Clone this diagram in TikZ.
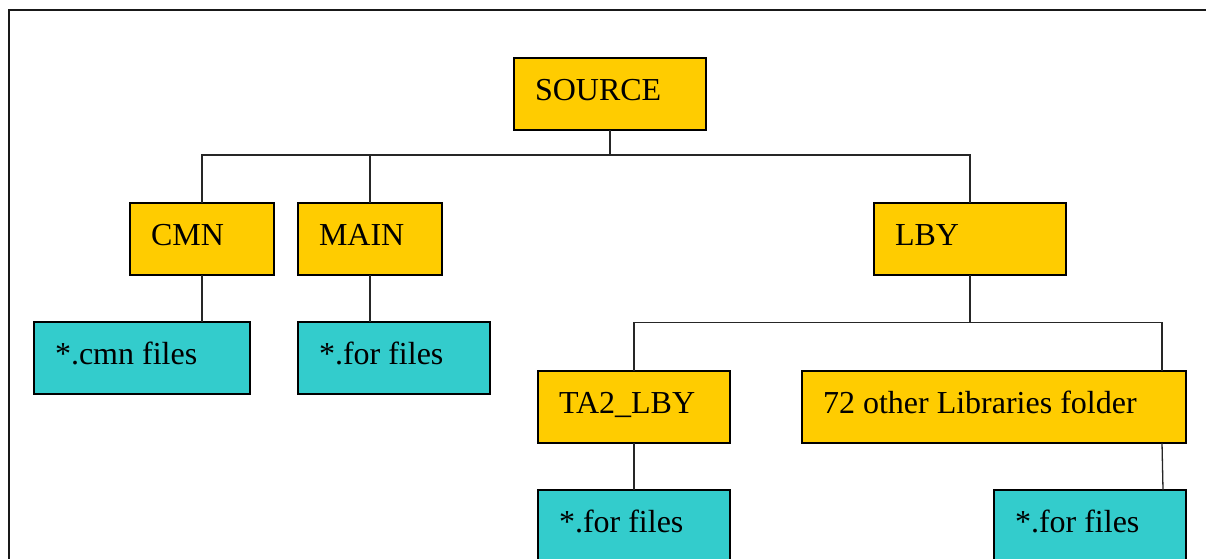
\documentclass[tikz,border=0pt]{standalone}
\usepackage{fontspec}
\setmainfont{Liberation Serif}
\definecolor{folderyellow}{HTML}{FFCC00}
\definecolor{fileteal}{HTML}{33CCCC}
\begin{document}
\begin{tikzpicture}[x=1pt,y=-1pt,
  box/.style={draw=black, line width=2pt, anchor=north west, outer sep=0pt,
    inner xsep=21pt, inner ysep=0pt, text height=42pt, text depth=30pt,
    align=left, font=\fontsize{32}{36}\selectfont,
    execute at begin node={\spaceskip=0pt\xspaceskip=0pt\relax}},
  folder/.style={box, fill=folderyellow},
  files/.style={box, fill=fileteal},
  link/.style={draw=black!85, line width=1.3pt}]
\useasboundingbox (0,0) rectangle (1206,558);
\clip (0,0) rectangle (1206,558);
% page frame
\draw[line width=2pt, black!90] (9,9.5) rectangle (1230,600);
% folders
\node[folder, text width=150pt] (source) at (514,58) {SOURCE};
\node[folder, text width=102pt] (cmn) at (130,203) {CMN};
\node[folder, text width=102pt] (main) at (298,203) {MAIN};
\node[folder, text width=150pt] (lby) at (874,203) {LBY};
\node[folder, text width=150pt] (ta2) at (538,371) {TA2\_LBY};
\node[folder, text width=342pt] (other) at (802,371) {72 other Libraries folder};
% file groups
\node[files, text width=174pt] (cmnfiles) at (34,322) {*.cmn files};
\node[files, text width=150pt] (mainfiles) at (298,322) {*.for files};
\node[files, text width=150pt] (ta2files) at (538,490) {*.for files};
\node[files, text width=150pt] (otherfiles) at (994,490) {*.for files};
% tree connectors
\coordinate (bus1) at (source.south |- 0,155);
\coordinate (bus2) at (lby.south |- 0,322.5);
\draw[link] (source.south) -- (bus1) -| (cmn.north);
\draw[link] (bus1) -| (main.north);
\draw[link] (bus1) -| (lby.north);
\draw[link] (cmn.south) -- (cmnfiles.north -| cmn.south);
\draw[link] (main.south) -- (mainfiles.north -| main.south);
\draw[link] (lby.south) -- (bus2) -| (ta2.north);
\draw[link] (bus2) -| ([xshift=-24pt]other.north east);
\draw[link] (ta2.south) -- (ta2files.north);
\draw[link] ([xshift=-24pt]other.south east) -- ([xshift=-23pt]otherfiles.north east);
\end{tikzpicture}
\end{document}
